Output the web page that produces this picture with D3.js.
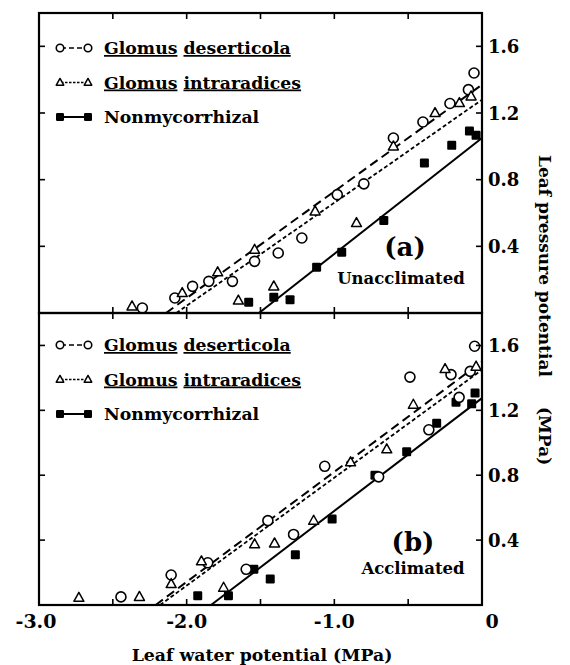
<!DOCTYPE html>
<html lang="en">
  <head>
    <meta charset="UTF-8">
    <title>Leaf pressure potential vs leaf water potential</title>
    <script src="https://d3js.org/d3.v7.min.js"></script>
    <style>
      * {
        margin: 0;
        padding: 0;
      }
      body {
        background: #fff;
      }
      body > svg {
        display: block;
      }
      text {
        font-family: "DejaVu Serif", serif;
        font-weight: bold;
        fill: #000;
      }
    </style>
  </head>
  <body>
    <script>
      // ticks
      var xTicks = [-2.5, -2.0, -1.5, -1.0, -0.5];
      var xLabels = [-3.0, -2.0, -1.0, 0];
      var yTicks = [0.4, 0.8, 1.2, 1.6];

      // (a) unacclimated: [leaf water potential, leaf pressure potential]
      var aDeserticola = [[-2.30, 0.03], [-2.08, 0.09], [-1.96, 0.16], [-1.85, 0.19], [-1.69, 0.19],
        [-1.54, 0.31], [-1.38, 0.36], [-1.22, 0.45], [-0.98, 0.71], [-0.80, 0.775], [-0.60, 1.05],
        [-0.40, 1.146], [-0.217, 1.257], [-0.092, 1.34], [-0.054, 1.44]];
      var aIntraradices = [[-2.37, 0.04], [-2.03, 0.12], [-1.79, 0.245], [-1.65, 0.075], [-1.54, 0.38],
        [-1.41, 0.16], [-1.13, 0.61], [-0.85, 0.54], [-0.60, 1.00], [-0.318, 1.20], [-0.153, 1.26],
        [-0.074, 1.30]];
      var aNonmyc = [[-1.58, 0.065], [-1.41, 0.095], [-1.30, 0.08], [-1.12, 0.275], [-0.95, 0.365],
        [-0.665, 0.555], [-0.39, 0.90], [-0.205, 1.006], [-0.085, 1.092], [-0.04, 1.066]];
      var aDeserticolaFit = [[-2.14, 0], [0, 1.37]];
      var aIntraradicesFit = [[-2.07, 0], [0, 1.28]];
      var aNonmycFit = [[-1.51, 0], [0, 1.05]];

      // (b) acclimated
      var bDeserticola = [[-2.445, 0.05], [-2.105, 0.185], [-1.857, 0.26], [-1.597, 0.22], [-1.45, 0.52],
        [-1.276, 0.435], [-1.065, 0.855], [-0.70, 0.79], [-0.488, 1.405], [-0.36, 1.08], [-0.21, 1.42],
        [-0.155, 1.28], [-0.08, 1.44], [-0.05, 1.595]];
      var bIntraradices = [[-2.73, 0.045], [-2.32, 0.05], [-2.105, 0.13], [-1.90, 0.27], [-1.75, 0.107],
        [-1.54, 0.375], [-1.405, 0.38], [-1.14, 0.52], [-0.89, 0.88], [-0.645, 0.96], [-0.465, 1.235],
        [-0.25, 1.455], [-0.04, 1.47]];
      var bNonmyc = [[-1.925, 0.057], [-1.717, 0.057], [-1.545, 0.22], [-1.434, 0.16], [-1.264, 0.31],
        [-1.015, 0.53], [-0.725, 0.80], [-0.51, 0.945], [-0.307, 1.12], [-0.176, 1.25], [-0.07, 1.24],
        [-0.047, 1.307]];
      var bDeserticolaFit = [[-2.21, 0], [0, 1.50]];
      var bIntraradicesFit = [[-2.18, 0], [0, 1.45]];
      var bNonmycFit = [[-1.835, 0], [0, 1.275]];

      var width = 570;
      var height = 665;
      var left = 39, right = 482;

      var svg = d3.select("body").append("svg")
        .attr("width", width)
        .attr("height", height);

      var x = d3.scaleLinear().domain([-3, 0]).range([left, right]);

      var panels = [
        { top: 13, bottom: 313, tag: "(a)", name: "Unacclimated", tagX: 405, tagY: 256, nameX: 401, nameY: 284,
          des: aDeserticola, intra: aIntraradices, non: aNonmyc,
          desFit: aDeserticolaFit, intraFit: aIntraradicesFit, nonFit: aNonmycFit, legendY: 48 },
        { top: 313, bottom: 605, tag: "(b)", name: "Acclimated", tagX: 413, tagY: 551, nameX: 413, nameY: 574,
          des: bDeserticola, intra: bIntraradices, non: bNonmyc,
          desFit: bDeserticolaFit, intraFit: bIntraradicesFit, nonFit: bNonmycFit, legendY: 345 }
      ];

      var styles = {
        des: { dash: "9,5", width: 2 },
        intra: { dash: "4,2.5", width: 1.8 },
        non: { dash: null, width: 2 }
      };

      function triPath(cx, cy, s) {
        var h = s * 0.9;
        return "M" + cx + "," + (cy - h * 0.6) + "L" + (cx + s / 2) + "," + (cy + h * 0.4) +
          "L" + (cx - s / 2) + "," + (cy + h * 0.4) + "Z";
      }

      function drawMarker(g, kind, cx, cy, s) {
        if (kind === "des") {
          g.append("circle").attr("cx", cx).attr("cy", cy).attr("r", s / 2)
            .attr("fill", "#fff").attr("stroke", "#000").attr("stroke-width", 1.6);
        } else if (kind === "intra") {
          g.append("path").attr("d", triPath(cx, cy, s))
            .attr("fill", "#fff").attr("stroke", "#000").attr("stroke-width", 1.5)
            .attr("stroke-linejoin", "round");
        } else {
          g.append("rect").attr("x", cx - s / 2).attr("y", cy - s / 2)
            .attr("width", s).attr("height", s).attr("rx", 1.2)
            .attr("fill", "#000");
        }
      }

      panels.forEach(function (p, i) {
        var y = d3.scaleLinear().domain([0, 1.8]).range([p.bottom, p.top]);
        var g = svg.append("g");

        // fitted lines
        ["des", "intra", "non"].forEach(function (k) {
          var line = d3.line()
            .x(function (d) { return x(d[0]); })
            .y(function (d) { return y(d[1]); });
          g.append("path")
            .attr("d", line(p[k + "Fit"]))
            .attr("fill", "none")
            .attr("stroke", "#000")
            .attr("stroke-width", styles[k].width)
            .attr("stroke-dasharray", styles[k].dash);
        });

        // points
        p.non.forEach(function (d) { drawMarker(g, "non", x(d[0]), y(d[1]), 9); });
        p.des.forEach(function (d) { drawMarker(g, "des", x(d[0]), y(d[1]), 10); });
        p.intra.forEach(function (d) { drawMarker(g, "intra", x(d[0]), y(d[1]), 10); });

        // frame
        g.append("rect")
          .attr("x", left).attr("y", p.top)
          .attr("width", right - left).attr("height", p.bottom - p.top)
          .attr("fill", "none").attr("stroke", "#000").attr("stroke-width", 2.2);

        // ticks
        var tl = 6;
        xTicks.forEach(function (t) {
          g.append("line").attr("x1", x(t)).attr("x2", x(t))
            .attr("y1", p.top).attr("y2", p.top + tl)
            .attr("stroke", "#000").attr("stroke-width", 1.6);
          g.append("line").attr("x1", x(t)).attr("x2", x(t))
            .attr("y1", p.bottom).attr("y2", p.bottom - tl)
            .attr("stroke", "#000").attr("stroke-width", 1.6);
        });
        yTicks.forEach(function (t) {
          g.append("line").attr("x1", left).attr("x2", left + tl)
            .attr("y1", y(t)).attr("y2", y(t))
            .attr("stroke", "#000").attr("stroke-width", 1.6);
          g.append("line").attr("x1", right).attr("x2", right - tl)
            .attr("y1", y(t)).attr("y2", y(t))
            .attr("stroke", "#000").attr("stroke-width", 1.6);
          g.append("text")
            .attr("x", right + 6).attr("y", y(t) + 6.5)
            .attr("font-size", 18)
            .text(d3.format(".1f")(t));
        });

        // legend
        var rows = [
          { k: "des", words: ["Glomus", "deserticola"], ms: 7.5 },
          { k: "intra", words: ["Glomus", "intraradices"], ms: 7.5 },
          { k: "non", words: ["Nonmycorrhizal"], ms: 8 }
        ];
        rows.forEach(function (r, j) {
          var ly = p.legendY + j * 34.5;
          g.append("line").attr("x1", 61).attr("x2", 87)
            .attr("y1", ly).attr("y2", ly)
            .attr("stroke", "#000").attr("stroke-width", r.k === "non" ? 2 : 1.4)
            .attr("stroke-dasharray", r.k === "des" ? "5,3" : r.k === "intra" ? "2.5,1.5" : null);
          drawMarker(g, r.k, 60, ly, r.ms);
          drawMarker(g, r.k, 88, ly, r.ms);
          var t = g.append("text").attr("x", 104).attr("y", ly + 6).attr("font-size", 17.3);
          r.words.forEach(function (w, wi) {
            if (wi > 0) t.append("tspan").text(" ");
            var ts = t.append("tspan").text(w);
            if (r.k !== "non") ts.style("text-decoration", "underline");
          });
        });

        g.append("text").attr("x", p.tagX).attr("y", p.tagY)
          .attr("text-anchor", "middle").attr("font-size", 26).text(p.tag);
        g.append("text").attr("x", p.nameX).attr("y", p.nameY)
          .attr("text-anchor", "middle").attr("font-size", 16.5).text(p.name);
      });

      // bottom labels
      svg.selectAll(".xlab")
        .data(xLabels)
        .enter().append("text")
        .attr("class", "xlab")
        .attr("x", function (d) { return x(d) + (d === 0 ? 10 : (d === -3 ? -3 : 0)); })
        .attr("y", 628)
        .attr("text-anchor", "middle")
        .attr("font-size", 19)
        .text(function (d) { return d === 0 ? "0" : "-" + d3.format(".1f")(-d); });

      svg.append("text")
        .attr("x", 262).attr("y", 661)
        .attr("text-anchor", "middle")
        .attr("font-size", 17.3)
        .text("Leaf water potential (MPa)");

      // right-side title, reading downward
      svg.append("text")
        .attr("transform", "translate(539,155) rotate(90)")
        .attr("font-size", 17)
        .text("Leaf pressure potential");
      svg.append("text")
        .attr("transform", "translate(539,407) rotate(90)")
        .attr("font-size", 17)
        .text("(MPa)");
    </script>
  </body>
</html>
